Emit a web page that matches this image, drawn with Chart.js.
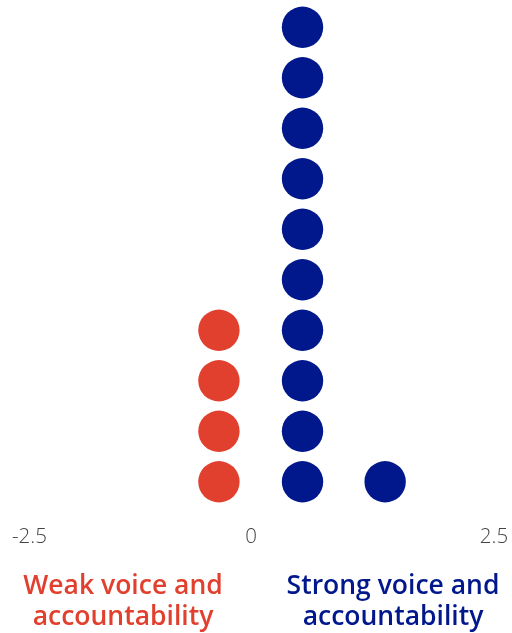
<!DOCTYPE html>
<html>
<head>
<meta charset="utf-8">
<script src="https://cdn.jsdelivr.net/npm/chart.js@4/dist/chart.umd.min.js"></script>
<style>
  html, body { margin: 0; padding: 0; background: #fff; }
  #wrap { position: relative; width: 512px; height: 633px; overflow: hidden; }
  canvas { position: absolute; left: 0; top: 0; }
  .cap {
    position: absolute; width: 280px; text-align: center;
    font-family: "Open Sans", sans-serif; font-weight: 600; font-size: 26.5px;
    line-height: 31px; top: 569px; white-space: nowrap;
  }
</style>
</head>
<body>
<div id="wrap">
  <canvas id="c" width="512" height="633"></canvas>
  <div class="cap" id="capWeak"></div>
  <div class="cap" id="capStrong"></div>
</div>
<script>
// Group captions shown under the axis
const categories = ['Weak voice and\naccountability', 'Strong voice and\naccountability'];
const colors = ['#E2402F', '#00188C'];

// Score bins and number of countries in each bin
const weakScores = [-0.33];
const weakCounts = [4];
const strongScores = [0.53, 1.38];
const strongCounts = [10, 1];

// Axis ticks
const tickValues = [-2.5, 0, 2.5];
const tickLabels = ['-2.5', '0', '2.5'];

// Stack one dot per country on top of each other in its bin
function stackDots(scores, counts) {
  const pts = [];
  scores.forEach((s, i) => {
    for (let k = 1; k <= counts[i]; k++) pts.push({ x: s, y: k });
  });
  return pts;
}

const capEls = [document.getElementById('capWeak'), document.getElementById('capStrong')];
capEls[0].style.left = (123 - 140) + 'px';
capEls[1].style.left = (393 - 140) + 'px';
categories.forEach((t, i) => {
  capEls[i].innerHTML = t.replace('\n', '<br>');
  capEls[i].style.color = colors[i];
});

// Tick labels drawn under the plot, kept inside the canvas edges
const tickPlugin = {
  id: 'tickText',
  afterDraw(chart) {
    const ctx = chart.ctx;
    const xs = chart.scales.x;
    ctx.save();
    ctx.font = '300 20.5px "Open Sans", sans-serif';
    ctx.fillStyle = '#444';
    ctx.textAlign = 'center';
    ctx.textBaseline = 'alphabetic';
    tickValues.forEach((v, i) => {
      const w = ctx.measureText(tickLabels[i]).width;
      let px = xs.getPixelForValue(v);
      px = Math.max(px, 12 + w / 2);
      px = Math.min(px, chart.width - 3 - w / 2);
      ctx.fillText(tickLabels[i], px, 543);
    });
    ctx.restore();
  }
};

new Chart(document.getElementById('c'), {
  type: 'scatter',
  data: {
    datasets: [
      {
        label: categories[0],
        data: stackDots(weakScores, weakCounts),
        backgroundColor: colors[0],
        borderColor: colors[0],
        borderWidth: 0,
        pointRadius: 20.7,
        pointHoverRadius: 20.7,
        clip: false
      },
      {
        label: categories[1],
        data: stackDots(strongScores, strongCounts),
        backgroundColor: colors[1],
        borderColor: colors[1],
        borderWidth: 0,
        pointRadius: 20.7,
        pointHoverRadius: 20.7,
        clip: false
      }
    ]
  },
  options: {
    responsive: false,
    devicePixelRatio: 1,
    animation: false,
    layout: { autoPadding: false, padding: { left: 8, right: 18, top: 2, bottom: 126 } },
    plugins: { legend: { display: false }, tooltip: { enabled: false } },
    scales: {
      x: { type: 'linear', min: -2.5, max: 2.5, display: false },
      y: { type: 'linear', min: 0.5, max: 10.5, display: false }
    }
  },
  plugins: [tickPlugin]
});
</script>
</body>
</html>
